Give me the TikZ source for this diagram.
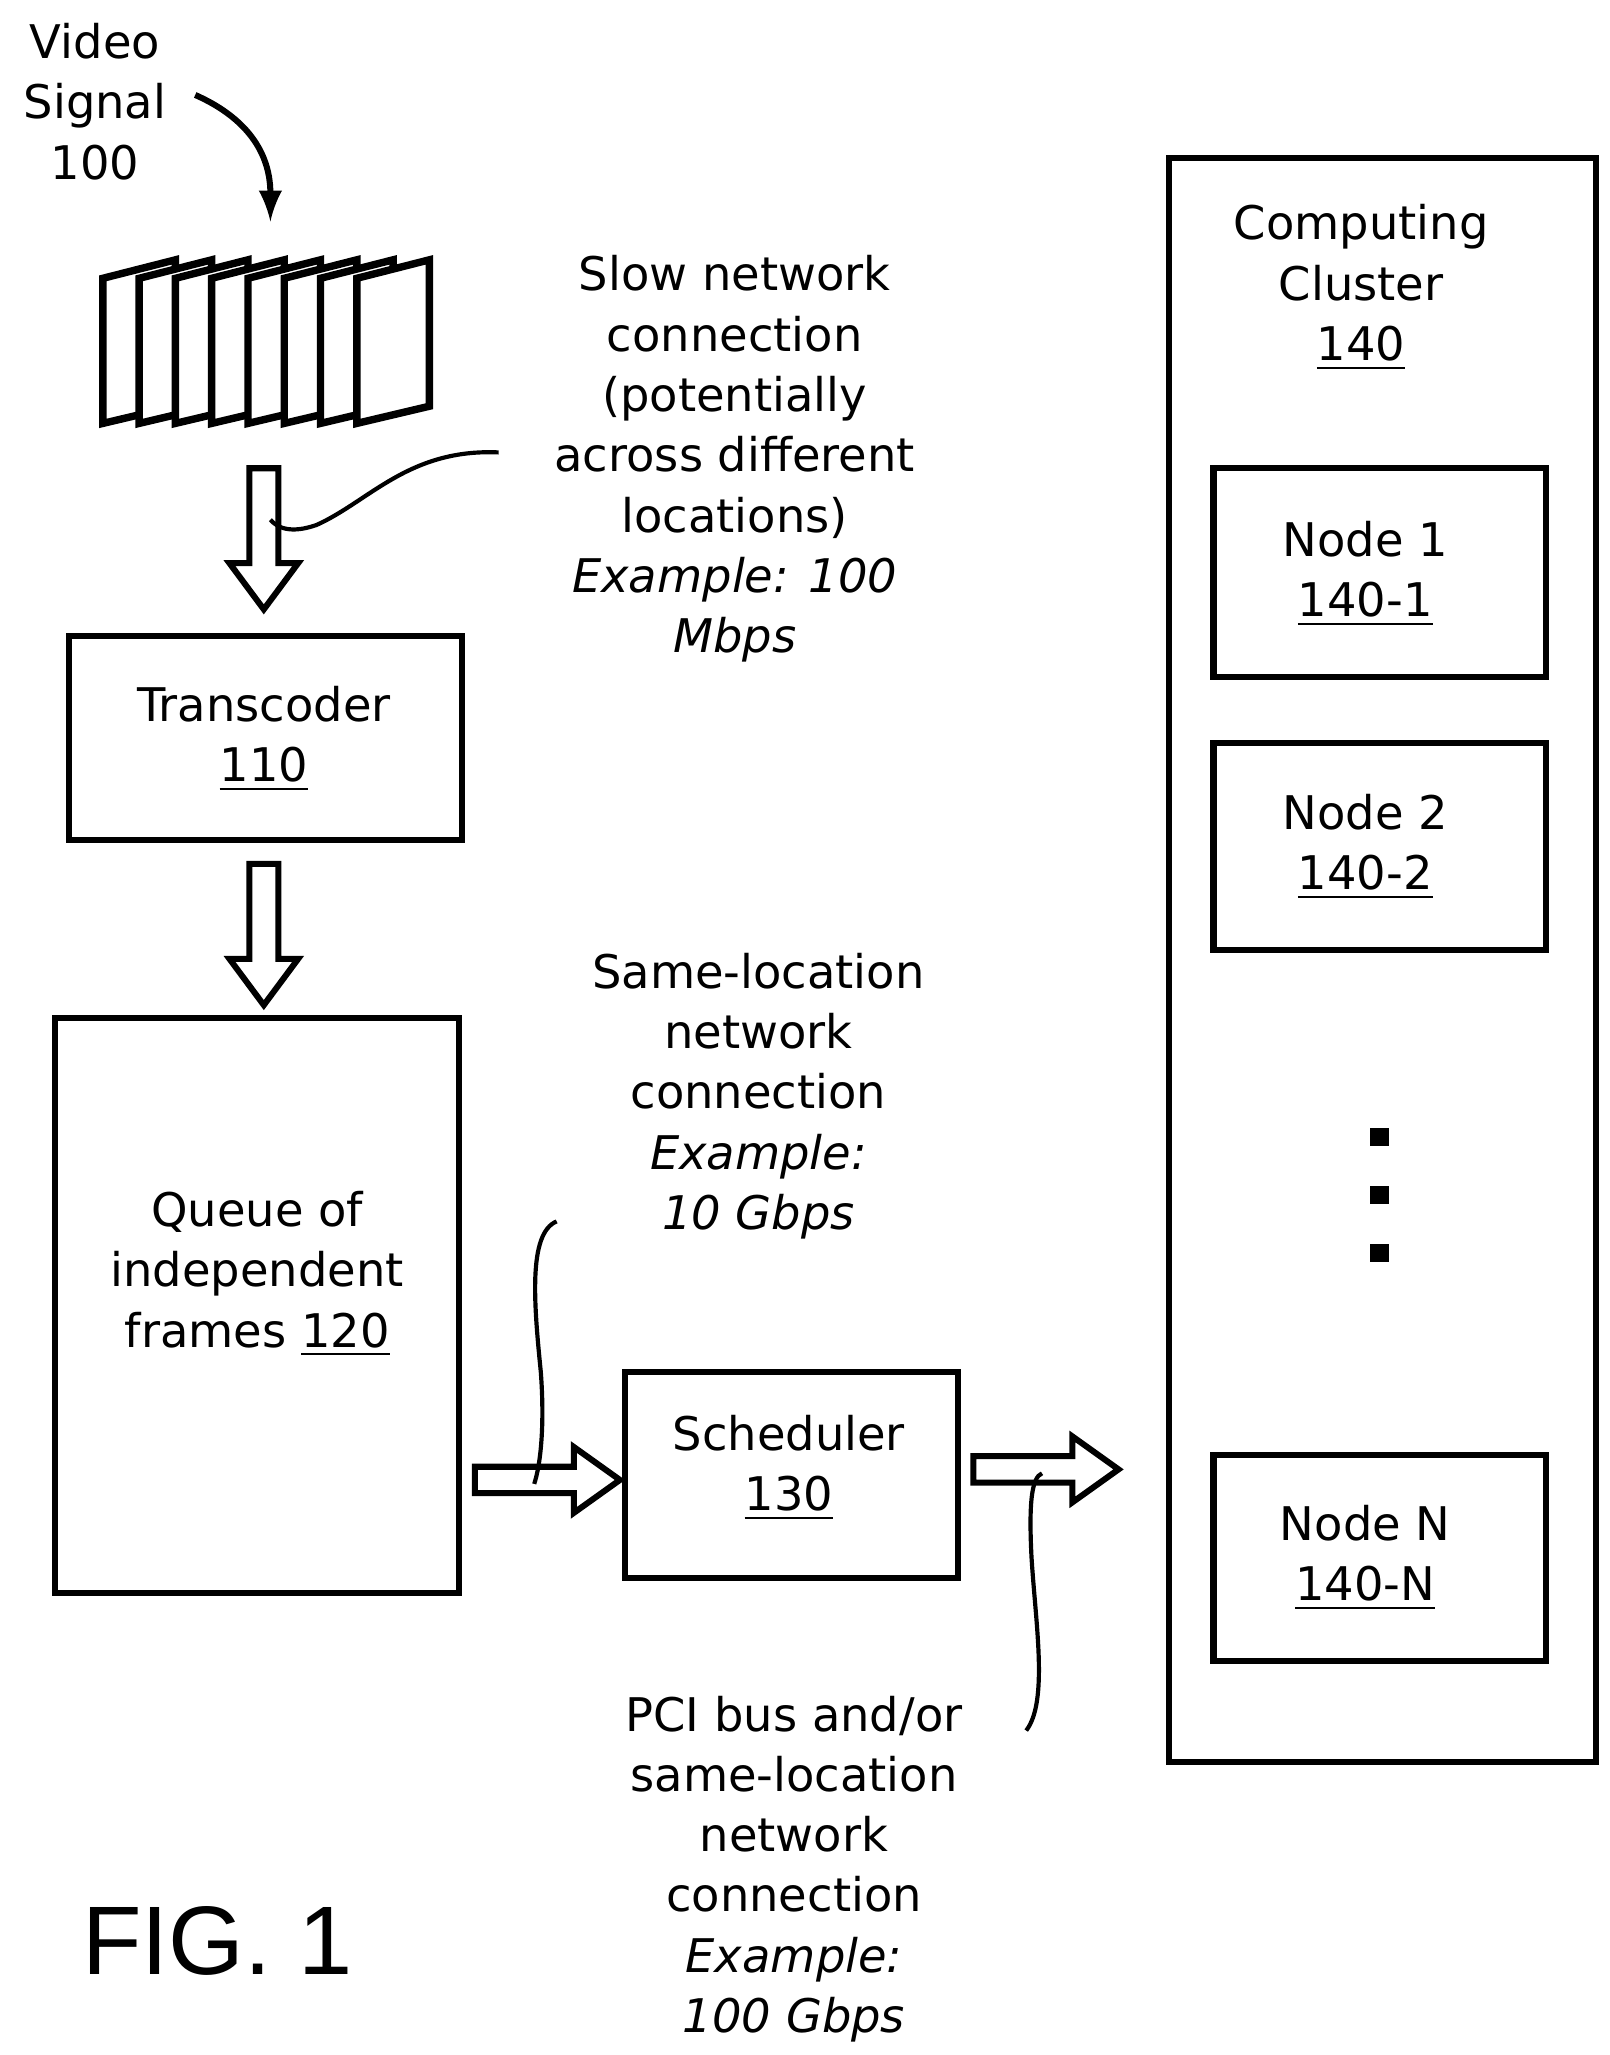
\documentclass[tikz,border=0pt]{standalone}
\usepackage{fontspec}
\setmainfont{DejaVu Sans}
\newfontfamily\figfont{Liberation Sans}
\newcommand\hdarrow[3]{\draw[lw] (#1-11,#2) -- (#1+11,#2) -- (#1+11,#3-35) -- (#1+26,#3-35) -- (#1,#3) -- (#1-26,#3-35) -- (#1-11,#3-35) -- cycle;}
\newcommand\hrarrow[3]{\draw[lw] (#1,#3-10) -- (#2-35,#3-10) -- (#2-35,#3-25) -- (#2,#3) -- (#2-35,#3+25) -- (#2-35,#3+10) -- (#1,#3+10) -- cycle;}
\begin{document}
\begin{tikzpicture}[x=0.01cm,y=-0.01cm,
  lw/.style={line width=1.3pt},
  box/.style={lw,draw},
  txt/.style={align=center,font=\fontsize{10}{13}\selectfont,anchor=center},
  frame/.style={line width=1.6pt,fill=white,draw}]
\useasboundingbox (0,0) rectangle (1220,1558);
\node[txt] (vs) at (72,77) {Video\\Signal\\100};
\draw[lw,-latex] (148,72) .. controls (200,95) and (205,130) .. (205,168);
\foreach \i in {0,...,7}{
  \pgfmathsetmacro\xl{78+\i*27.5}
  \draw[frame] (\xl,211) -- (\xl+55,197) -- (\xl+55,308) -- (\xl,321) -- cycle;}
\hdarrow{200}{355}{462}
\draw[box] (52,482) rectangle (350,637);
\node[txt] (tr) at (200,560) {Transcoder\\\underline{110}};
\hdarrow{200}{655}{762}
\draw[box] (42,772) rectangle (348,1208);
\node[txt] (q) at (195,966) {Queue of\\independent\\frames \underline{120}};
\hrarrow{360}{470}{1122}
\draw[box] (474,1040) rectangle (726,1196);
\node[txt] (s) at (598,1113) {Scheduler\\\underline{130}};
\hrarrow{738}{848}{1114}
\draw[box] (886,120) rectangle (1210,1336);
\node[txt] (c) at (1032,218) {Computing\\Cluster\\\underline{140}};
\draw[box] (920,355) rectangle (1172,513);
\node[txt] (n1) at (1035,435) {Node 1\\\underline{140-1}};
\draw[box] (920,563) rectangle (1172,720);
\node[txt] (n2) at (1035,642) {Node 2\\\underline{140-2}};
\foreach \y in {862,906,950} \fill (1039,\y-7) rectangle (1053,\y+7);
\draw[box] (920,1103) rectangle (1172,1259);
\node[txt] (nn) at (1035,1181) {Node N\\\underline{140-N}};
\node[txt] (slow) at (557,348) {Slow network\\connection\\(potentially\\across different\\locations)\\\textit{Example: 100}\\\textit{Mbps}};
\draw[line width=0.9pt] (378,343) .. controls (310,340) and (280,380) .. (240,398) .. controls (220,405) and (210,400) .. (205,394);
\node[txt] (same) at (575,831) {Same-location\\network\\connection\\\textit{Example:}\\\textit{10 Gbps}};
\draw[line width=0.9pt] (422,926) .. controls (400,935) and (405,990) .. (410,1040) .. controls (413,1080) and (410,1110) .. (405,1125);
\node[txt] (pci) at (602,1417) {PCI bus and/or\\same-location\\network\\connection\\\textit{Example:}\\\textit{100 Gbps}};
\draw[line width=0.9pt] (778,1312) .. controls (795,1290) and (785,1230) .. (782,1180) .. controls (780,1140) and (782,1120) .. (790,1117);
\node[anchor=base,font=\figfont\fontsize{21}{21}\selectfont] (fig) at (165,1497) {FIG. 1};
\end{tikzpicture}
\end{document}
